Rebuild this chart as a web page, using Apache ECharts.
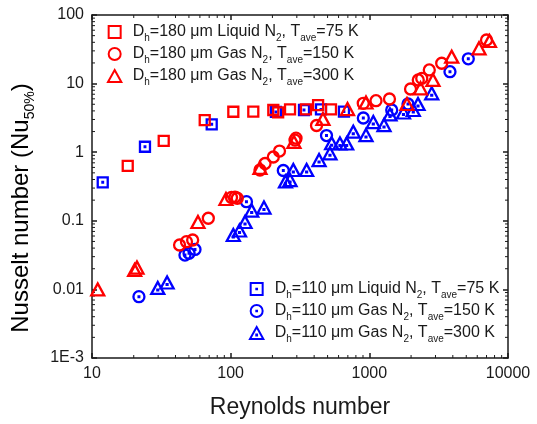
<!DOCTYPE html>
<html>
<head>
<meta charset="utf-8">
<script src="https://cdn.jsdelivr.net/npm/echarts@6/dist/echarts.min.js"></script>
<style>
  html, body { margin: 0; padding: 0; background: #fff; }
  #main { width: 537px; height: 424px; }
</style>
</head>
<body>
<div id="main"></div>
<script>
// Reynolds number / Nusselt number pairs
var liq180 = [[18.1,0.63],[32.9,1.46],[65,2.94],[104.5,3.89],[145.6,3.9],[203,4.12],[220,3.8],[268,4.22],[349,4.2],[427,4.87],[529,4.2]];
var gas180_150 = [[42.8,0.0444],[48,0.0496],[53.2,0.0525],[69,0.109],[101.4,0.219],[107.5,0.222],[111.6,0.213],[162.7,0.55],[176.9,0.684],[203,0.851],[225,1.04],[291,1.5],[296,1.6],[416,2.45],[904,5.16],[1117,5.63],[1397,5.96],[1982,8.34],[2254,11.3],[2388,11.9],[2706,15.8],[3326,19.8],[6998,43.2]];
var gas180_300 = [[11.0,0.0100],[20.3,0.0192],[21.1,0.0208],[58.1,0.096],[92.5,0.208],[162.7,0.589],[286,1.41],[463,3.05],[696,4.26],[946,5.3],[1869,5.04],[2339,8.54],[2877,11.3],[3926,24.7],[6180,32.7],[7350,41.8]];
var liq110 = [[11.95,0.364],[24.1,1.2],[73,2.55],[212,3.86],[338,4.12],[448,4.2],[656,3.9]];
var gas110_150 = [[21.8,0.00783],[46.8,0.0317],[50.1,0.0336],[55.3,0.0382],[130,0.19],[239.7,0.541],[491,1.75],[905,3.15],[1450,4.12],[1900,5.04],[3815,14.9],[5172,23.0]];
var gas110_300 = [[29.8,0.0105],[34.8,0.0126],[104.5,0.0621],[115.8,0.0722],[126.9,0.096],[141.8,0.141],[173.8,0.156],[248.5,0.374],[268,0.393],[283,0.55],[353,0.55],[434,0.769],[520,0.964],[535,1.35],[614,1.34],[686,1.34],[766,1.99],[946,1.78],[1068,2.75],[1276,2.49],[1409,3.55],[1763,3.79],[2075,4.12],[2244,5.04],[2818,7.22]];

var xLabels = ['10', '100', '1000', '10000'];          // 10^1 .. 10^4
var yLabels = ['1E-3', '0.01', '0.1', '1', '10', '100'];  // 10^-3 .. 10^2

// legend text parts
var names = ['red1', 'red2', 'red3', 'blue1', 'blue2', 'blue3'];
var dh = ['180', '180', '180', '110', '110', '110'];
var fluid = ['Liquid', 'Gas', 'Gas', 'Liquid', 'Gas', 'Gas'];
var tave = ['75', '150', '300', '75', '150', '300'];

var font = 'Liberation Sans, Arial, Helvetica, sans-serif';
var ink = '#1a1a1a';
var red = '#ff0000';
var blue = '#0000ff';

var G = { left: 92, right: 29, top: 15, bottom: 66 };

var sq = 'path://M0,0L10,0L10,10L0,10Z';
var ci = 'path://M5,0A5,5,0,1,1,5,10A5,5,0,1,1,5,0Z';
var tr = 'path://M5,0L10,9L0,9Z';
var dot = 'M4.7,4.7L5.3,4.7L5.3,5.3L4.7,5.3Z';
var dotT = 'M4.7,5.7L5.3,5.7L5.3,6.3L4.7,6.3Z';

function label(i) {
    return '{m|D}{s|h}{m|=' + dh[i] + ' \u03bcm ' + fluid[i] + ' N}{s|2}{m|, T}{s|ave}{m|=' + tave[i] + ' K}';
}

var rich = {
    m: { fontSize: 16, fontFamily: font, color: ink, lineHeight: 22 },
    s: { fontSize: 10, fontFamily: font, color: ink, lineHeight: 11, verticalAlign: 'bottom' }
};

function scatter(i, data, symbol, size, color) {
    return {
        name: names[i],
        type: 'scatter',
        data: data,
        symbol: symbol,
        symbolSize: size,
        itemStyle: { color: 'transparent', borderColor: color, borderWidth: 2.3, opacity: 1 },
        emphasis: { disabled: true },
        silent: true
    };
}

function logAxis(pos, min, max, labels, showLabel) {
    return {
        type: 'log',
        logBase: 10,
        position: pos,
        min: min,
        max: max,
        axisLine: { show: true, onZero: false, lineStyle: { color: ink, width: 1.5 } },
        axisTick: { show: true, inside: true, length: 5, lineStyle: { color: ink, width: 1.5 } },
        axisLabel: {
            show: showLabel,
            fontSize: 16,
            fontFamily: font,
            color: ink,
            margin: 8,
            showMinLabel: true,
            showMaxLabel: true,
            formatter: function (v) {
                var k = Math.round(Math.log10(v)) - Math.round(Math.log10(min));
                return labels[k];
            }
        },
        splitLine: { show: false }
    };
}

var legendBase = {
    orient: 'vertical',
    itemWidth: 26,
    itemHeight: 12,
    itemGap: 3,
    selectedMode: false,
    formatter: function (n) { return label(names.indexOf(n)); },
    textStyle: { rich: rich }
};

var option = {
    animation: false,
    backgroundColor: '#fff',
    grid: { left: G.left, right: G.right, top: G.top, bottom: G.bottom },
    legend: [
        Object.assign({}, legendBase, { left: 102, top: 19, data: names.slice(0, 3) }),
        Object.assign({}, legendBase, { left: 244, top: 276, data: names.slice(3) })
    ],
    xAxis: [logAxis('bottom', 10, 10000, xLabels, true), logAxis('top', 10, 10000, xLabels, false)],
    yAxis: [logAxis('left', 0.001, 100, yLabels, true), logAxis('right', 0.001, 100, yLabels, false)],
    series: [
        scatter(3, liq110, sq + dot, [10, 10], blue),
        scatter(4, gas110_150, ci + dot, [11, 11], blue),
        scatter(5, gas110_300, tr + dotT, [13, 12], blue),
        scatter(0, liq180, sq, [10, 10], red),
        scatter(1, gas180_150, ci, [11, 11], red),
        scatter(2, gas180_300, tr, [13, 12], red)
    ],
    graphic: [
        {
            type: 'text',
            x: 300,
            y: 408,
            style: { text: 'Reynolds number', font: '23px ' + font, fill: ink, align: 'center', verticalAlign: 'middle' }
        },
        {
            type: 'text',
            x: 21,
            y: 208,
            rotation: Math.PI / 2,
            style: {
                text: '{m|Nusselt number (Nu}{s|50%}{m|)}',
                align: 'center',
                verticalAlign: 'middle',
                rich: {
                    m: { fontSize: 24, fontFamily: font, color: ink, lineHeight: 32 },
                    s: { fontSize: 14, fontFamily: font, color: ink, lineHeight: 15, verticalAlign: 'bottom' }
                }
            }
        }
    ]
};

var chart = echarts.init(document.getElementById('main'));
chart.setOption(option);

// minor ticks at 2..9 of every decade, placed through the axes
var W = 537, H = 424;
var x0 = G.left, x1 = W - G.right, y0 = G.top, y1 = H - G.bottom;
var ticks = [];
function tick(a, b, c, d) {
    ticks.push({ type: 'line', silent: true, shape: { x1: a, y1: b, x2: c, y2: d }, style: { stroke: ink, lineWidth: 1 } });
}
for (var e = 1; e < 4; e++) {
    for (var k = 2; k < 10; k++) {
        var px = chart.convertToPixel({ xAxisIndex: 0 }, k * Math.pow(10, e));
        tick(px, y1, px, y1 - 3);
        tick(px, y0, px, y0 + 3);
    }
}
for (var e2 = -3; e2 < 2; e2++) {
    for (var k2 = 2; k2 < 10; k2++) {
        var py = chart.convertToPixel({ yAxisIndex: 0 }, k2 * Math.pow(10, e2));
        tick(x0, py, x0 + 3, py);
        tick(x1, py, x1 - 3, py);
    }
}
chart.setOption({ graphic: option.graphic.concat(ticks) });
</script>
</body>
</html>
